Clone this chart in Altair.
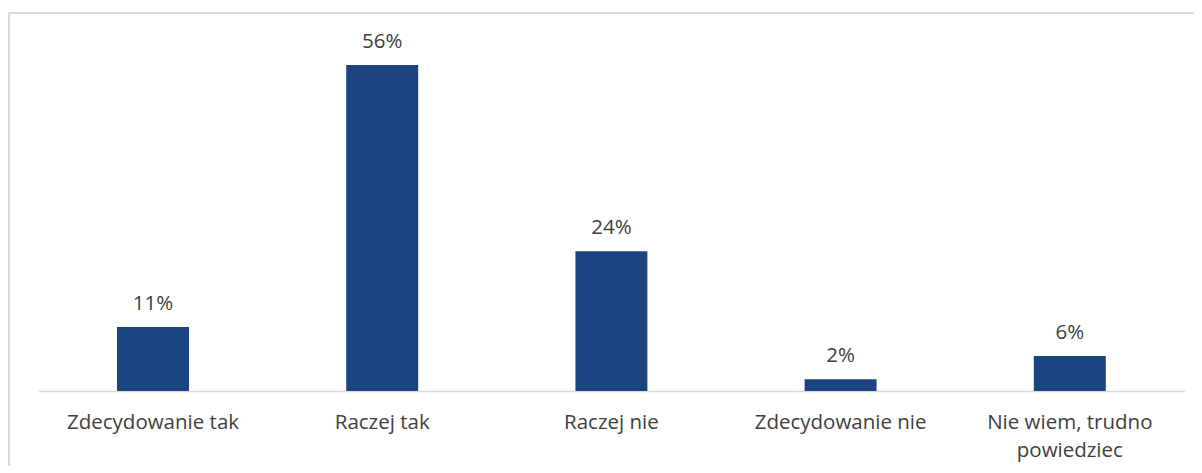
import altair as alt
import pandas as pd

categories = ["Zdecydowanie tak", "Raczej tak", "Raczej nie", "Zdecydowanie nie", "Nie wiem, trudno powiedziec"]
values = [11, 56, 24, 2, 6]
labels = ["11%", "56%", "24%", "2%", "6%"]

df = pd.DataFrame({"cat": categories, "val": values, "lab": labels})

FONT = "Open Sans"
FS = 20.5
W, H = 1146, 326

x = alt.X("cat:N", sort=categories, title=None,
          scale=alt.Scale(paddingInner=0.686, paddingOuter=0.343),
          axis=alt.Axis(labelAngle=0, domainColor="#d9d9d9", domainWidth=1.3, ticks=False,
                        labelFont=FONT, labelFontSize=FS, labelColor="#404040",
                        labelPadding=21, labelLineHeight=28, labelBaseline="top",
                        labelExpr="datum.label == 'Nie wiem, trudno powiedziec' ? ['Nie wiem, trudno', 'powiedziec'] : datum.label"))
y = alt.Y("val:Q", scale=alt.Scale(domain=[0, 56], nice=False), axis=None)

bars = alt.Chart(df).mark_bar(color="#1a4581").encode(x=x, y=y)
text = alt.Chart(df).mark_text(font=FONT, fontSize=FS, color="#404040", baseline="alphabetic", dy=-17).encode(
    x=alt.X("cat:N", sort=categories), y="val:Q", text="lab:N")

border = alt.Chart(df).mark_rect(fill=None, stroke="#d9d9d9", strokeWidth=2).encode(
    x=alt.value(-29.4), x2=alt.value(W + 80), y=alt.value(-52), y2=alt.value(H + 150))

chart = alt.layer(border, bars, text).properties(
    width=W, height=H,
    background="white",
    autosize=alt.AutoSizeParams(type="none"),
    padding={"left": 30.4, "top": 57, "right": 9.6, "bottom": 75},
).configure_view(strokeWidth=0)

chart.save("out.html", embed_options={"renderer": "svg", "actions": False})
